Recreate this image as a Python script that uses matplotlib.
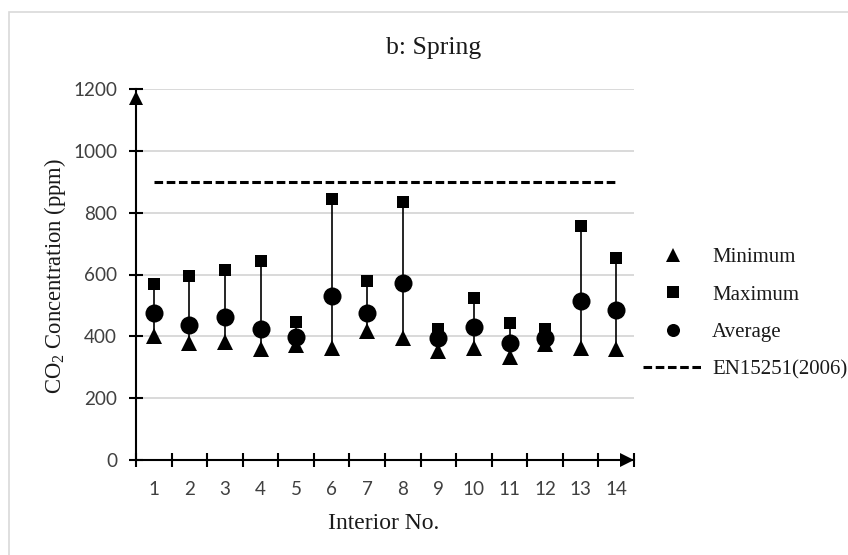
import matplotlib
matplotlib.use('Agg')
import matplotlib.pyplot as plt
from matplotlib.lines import Line2D
from matplotlib.patches import Rectangle
from matplotlib.transforms import offset_copy
import numpy as np

# ---- data ----
interiors = list(range(1, 15))
tick_labels = [str(i) for i in interiors]
minimum = [402, 378, 383, 358, 372, 363, 417, 396, 354, 363, 334, 374, 361, 358]
maximum = [569, 595, 614, 644, 445, 845, 578, 834, 423, 525, 442, 423, 757, 653]
average = [476, 437, 462, 425, 397, 531, 476, 572, 396, 431, 378, 394, 515, 485]
standard_limit = [900] * len(interiors)
y_ticks = [0, 200, 400, 600, 800, 1000, 1200]
legend_labels = ['Minimum', 'Maximum', 'Average', 'EN15251(2006)']

plt.rcParams['lines.scale_dashes'] = False
plt.rcParams['mathtext.fontset'] = 'custom'
plt.rcParams['mathtext.rm'] = 'Liberation Serif'

SERIF = 'Liberation Serif'
SANS = 'Lato'
TXT = '#1a1a1a'
TICKC = '#404040'

W, H = 848, 555
fig = plt.figure(figsize=(W / 100, H / 100), dpi=100)
fig.patch.set_facecolor('white')

# chart border (light gray)
fig.patches.append(Rectangle((9 / W, -0.1), 2, 1 - 12 / H + 0.1, transform=fig.transFigure,
                             fill=False, ec='#d9d9d9', lw=1.2, zorder=0))

ax = fig.add_axes([136 / W, 1 - 460 / H, 498 / W, 371 / H])

dash = (0, (6.2, 2.6))

ax.vlines(interiors, minimum, maximum, colors='black', lw=1.2, zorder=3)
ax.plot(interiors, minimum, ls='none', marker='^', ms=11.3, color='black', mew=0, zorder=4)
ax.plot(interiors, maximum, ls='none', marker='s', ms=9.1, color='black', mew=0, zorder=4)
ax.plot(interiors, average, ls='none', marker='o', ms=13, color='black', mew=0, zorder=5)
ax.plot(interiors, standard_limit, ls=dash, lw=2.2, color='black', zorder=3)

ax.set_xlim(0.5, len(interiors) + 0.5)
ax.set_ylim(y_ticks[0], y_ticks[-1])

ax.set_xticks(np.arange(0.5, len(interiors) + 1, 1))
ax.set_xticklabels([])
ax.set_xticks(interiors, minor=True)
ax.set_xticklabels(tick_labels, minor=True)
ax.set_yticks(y_ticks)
ax.set_yticklabels([str(v) for v in y_ticks])

ax.tick_params(axis='both', which='major', direction='inout', length=10, width=1.5, color='black')
ax.tick_params(axis='x', which='minor', length=0, pad=15.2)
ax.tick_params(axis='y', which='major', pad=8.6)
for lab in ax.get_xticklabels(minor=True) + ax.get_yticklabels():
    lab.set_family(SANS)
    lab.set_fontsize(13.6)
    lab.set_color(TICKC)

for s in ['top', 'right']:
    ax.spines[s].set_visible(False)
for s in ['left', 'bottom']:
    ax.spines[s].set_linewidth(1.5)
    ax.spines[s].set_color('black')
    ax.spines[s].set_zorder(6)

ax.yaxis.grid(True, color='#d9d9d9', lw=1.4)
ax.set_axisbelow(True)

# axis arrowheads
ax.plot([0], [1], marker='^', ms=10.2, color='black', mew=0, clip_on=False, zorder=7,
        transform=offset_copy(ax.transAxes, fig=fig, y=-8.5, units='dots'))
ax.plot([1], [0], marker='>', ms=9.6, color='black', mew=0, clip_on=False, zorder=7,
        transform=offset_copy(ax.transAxes, fig=fig, x=-7, units='dots'))

# texts
fig.text(434 / W, 1 - 54.3 / H, 'b: Spring', ha='center', va='baseline',
         fontsize=18.5, family=SERIF, color=TXT)
fig.text(384 / W, 1 - 529 / H, 'Interior No.', ha='center', va='baseline',
         fontsize=17, family=SERIF, color=TXT)
fig.text(55 / W, 1 - 276.5 / H, r'CO$_\mathregular{2}$ Concentration (ppm)', rotation=90,
         ha='center', va='center', fontsize=16.3, family=SERIF, color=TXT)

handles = [
    Line2D([], [], ls='none', marker='^', ms=9.4, color='black', mew=0),
    Line2D([], [], ls='none', marker='s', ms=8.6, color='black', mew=0),
    Line2D([], [], ls='none', marker='o', ms=9.4, color='black', mew=0),
    Line2D([], [], ls=dash, lw=2.2, color='black'),
]
fig.legend(handles, legend_labels, loc='center left', bbox_to_anchor=(643 / W, 1 - 313.5 / H),
           frameon=False, borderpad=0, borderaxespad=0, handlelength=2.88,
           handletextpad=0.43, labelspacing=0.85,
           prop=dict(family=SERIF, size=15), labelcolor=TXT)

fig.savefig('out.png', dpi=100)
